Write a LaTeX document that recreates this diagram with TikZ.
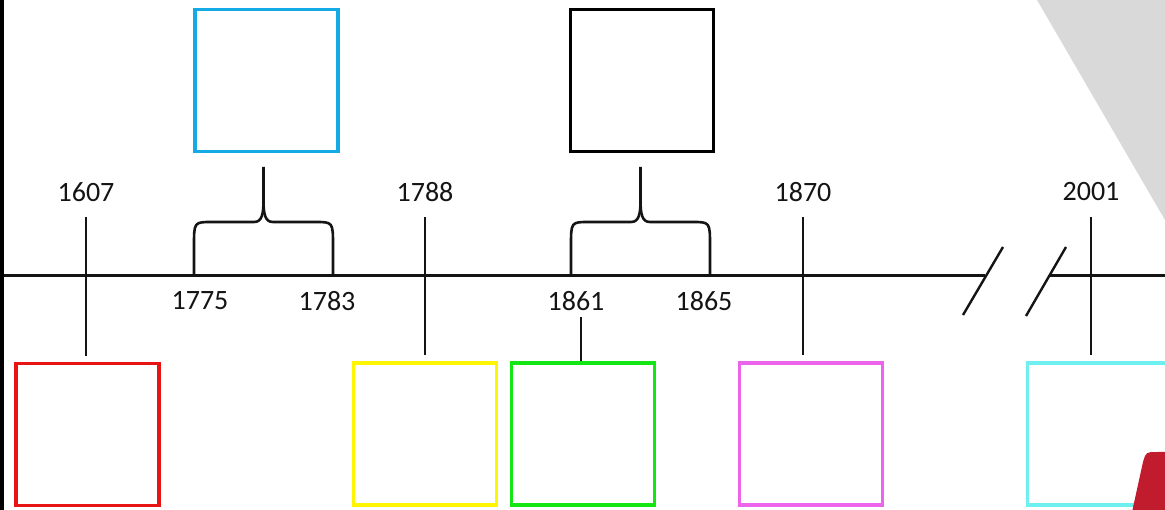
\documentclass[tikz,border=0pt]{standalone}
\usepackage{fontspec}
\setmainfont{Carlito}
\definecolor{cred}{RGB}{232,20,20}
\definecolor{cblue}{RGB}{20,170,230}
\definecolor{cyellow}{RGB}{255,245,0}
\definecolor{cgreen}{RGB}{20,230,20}
\definecolor{cmag}{RGB}{235,100,235}
\definecolor{ccyan}{RGB}{110,240,240}
\definecolor{cgray}{RGB}{217,217,217}
\definecolor{cdred}{RGB}{192,28,45}
\definecolor{ink}{RGB}{20,20,20}
\begin{document}
\begin{tikzpicture}[x=1pt,y=-1pt,
  box/.style={draw,line width=3.2pt,minimum width=143pt,minimum height=142pt,inner sep=0pt,fill=white},
  yr/.style={font=\fontsize{28}{32}\selectfont,text=ink,inner sep=1pt},
  tick/.style={draw=ink,line width=2.4pt},
  axis/.style={draw=ink,line width=3pt},
  brace/.style={draw=ink,line width=2.6pt,line join=round}]
\useasboundingbox (0,0) rectangle (1165,510);
\clip (0,0) rectangle (1165,510);
\fill[white] (0,0) rectangle (1165,510);
% background decorations
\fill[black] (0,0) rectangle (4,510);
\fill[cgray] (1037,0) -- (1165,0) -- (1165,220) -- cycle;
% timeline
\coordinate (a0) at (4,276);
\coordinate (a1) at (985,276);
\coordinate (a2) at (1049,276);
\coordinate (a3) at (1165,276);
\draw[axis] (a0) -- (a1);
\draw[axis] (a2) -- (a3);
\coordinate (s1a) at (963,315); \coordinate (s1b) at (1003,247);
\coordinate (s2a) at (1026,316); \coordinate (s2b) at (1066,247);
\draw[tick] (s1a) -- (s1b);
\draw[tick] (s2a) -- (s2b);
% boxes
\node[box,draw=cred] (bred) at (87.5,434.5) {};
\node[box,draw=cblue] (bblue) at (266.5,80.5) {};
\node[box,draw=cyellow] (byellow) at (425,434) {};
\node[box,draw=cgreen] (bgreen) at (583,434) {};
\node[box,draw=black] (bblack) at (642,80.5) {};
\node[box,draw=cmag] (bmag) at (811,434) {};
\node[box,draw=ccyan] (bcyan) at (1099,434) {};
% year labels above
\node[yr] (l1607) at (86,192) {1607};
\node[yr] (l1788) at (425,192) {1788};
\node[yr] (l1870) at (803,192) {1870};
\node[yr] (l2001) at (1091,192) {2001};
% year labels below
\node[yr] (l1775) at (200,301) {1775};
\node[yr] (l1783) at (327,301) {1783};
\node[yr] (l1861) at (576,301) {1861};
\node[yr] (l1865) at (704,301) {1865};
% ticks
\coordinate (t1607) at (86,217);  \coordinate (e1607) at (86,356);
\coordinate (t1788) at (425,217); \coordinate (e1788) at (425,355);
\coordinate (t1870) at (803,217); \coordinate (e1870) at (803,355);
\coordinate (t2001) at (1091,217); \coordinate (e2001) at (1091,355);
\draw[tick] (t1607) -- (e1607);
\draw[tick] (t1788) -- (e1788);
\draw[tick] (t1870) -- (e1870);
\draw[tick] (t2001) -- (e2001);
\coordinate (t1861) at (581,317);
\draw[tick] (t1861) -- (t1861 |- bgreen.north);
% braces
\coordinate (b1l) at (194,276); \coordinate (b1r) at (333,276); \coordinate (b1t) at (263.5,167);
\draw[brace] (b1l) -- (194,246) .. controls (194,222) .. (212,222) -- (254,222)
  .. controls (262,222) and (263.5,214) .. (263.5,200) -- (b1t);
\draw[brace] (b1r) -- (333,246) .. controls (333,222) .. (315,222) -- (273,222)
  .. controls (265,222) and (263.5,214) .. (263.5,200);
\coordinate (b2l) at (571,276); \coordinate (b2r) at (710,276); \coordinate (b2t) at (640.5,167);
\draw[brace] (b2l) -- (571,246) .. controls (571,222) .. (589,222) -- (631,222)
  .. controls (639,222) and (640.5,214) .. (640.5,200) -- (b2t);
\draw[brace] (b2r) -- (710,246) .. controls (710,222) .. (692,222) -- (650,222)
  .. controls (642,222) and (640.5,214) .. (640.5,200);
% red corner shape
\fill[cdred] (1132,512) -- (1143,462) .. controls (1146,452) .. (1157,452) -- (1167,452) -- (1167,512) -- cycle;
\end{tikzpicture}
\end{document}
